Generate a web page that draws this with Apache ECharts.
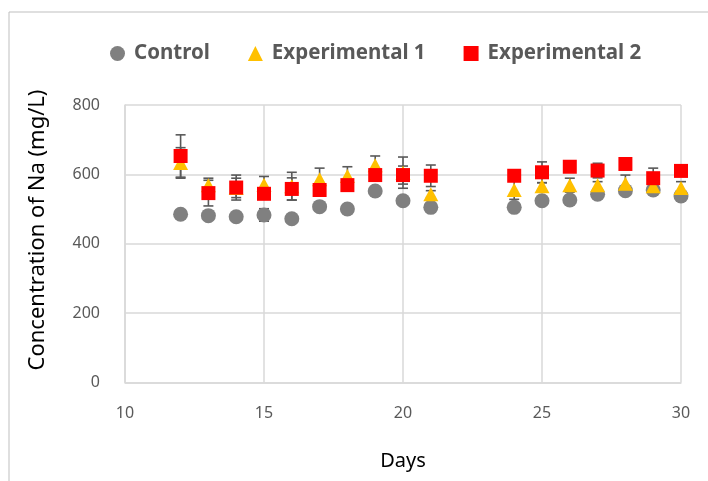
<!DOCTYPE html>
<html>
<head>
<meta charset="utf-8">
<script src="https://cdn.jsdelivr.net/npm/echarts@6/dist/echarts.min.js"></script>
<style>
  html, body { margin: 0; padding: 0; background: #fff; }
  #chart { width: 708px; height: 481px; }
</style>
</head>
<body>
<div id="chart"></div>
<script>
// Sodium concentration by day, mean values with standard deviation
const days = [12, 13, 14, 15, 16, 17, 18, 19, 20, 21, 24, 25, 26, 27, 28, 29, 30];
const control = [485, 481, 478, 483, 472, 507, 500, 552, 524, 505, 505, 524, 526, 543, 553, 555, 538];
const controlErr = [8, 8, 8, 18, 8, 8, 8, 8, 8, 8, 8, 8, 8, 8, 8, 8, 8];
const exp1 = [633, 569, 561, 570, 566, 586, 595, 626, 605, 543, 555, 566, 569, 569, 573, 566, 561];
const exp1Err = [44, 20, 28, 24, 40, 32, 27, 27, 45, 10, 27, 10, 20, 10, 25, 10, 18];
const exp2 = [653, 546, 562, 544, 558, 555, 569, 598, 598, 596, 596, 606, 622, 611, 630, 589, 610];
const exp2Err = [61, 37, 36, 15, 32, 10, 10, 10, 26, 31, 10, 30, 10, 21, 10, 29, 10];
const seriesNames = ['Control', 'Experimental 1', 'Experimental 2'];
const xTicks = [10, 15, 20, 25, 30];
const yTicks = [0, 200, 400, 600, 800];
const xTitle = 'Days';
const yTitle = 'Concentration of Na (mg/L)';

const pts = (vals) => days.map((d, i) => [d, vals[i]]);
const errs = (vals, e) => days.map((d, i) => [d, vals[i] - e[i], vals[i] + e[i]]);

// vertical whisker with short caps at both ends
function errorBar(params, api) {
  const x = api.value(0);
  const lo = api.coord([x, api.value(1)]);
  const hi = api.coord([x, api.value(2)]);
  const w = 5;
  const style = { stroke: '#595959', lineWidth: 1.6 };
  return {
    type: 'group',
    children: [
      { type: 'line', shape: { x1: lo[0], y1: lo[1], x2: hi[0], y2: hi[1] }, style },
      { type: 'line', shape: { x1: lo[0] - w, y1: lo[1], x2: lo[0] + w, y2: lo[1] }, style },
      { type: 'line', shape: { x1: hi[0] - w, y1: hi[1], x2: hi[0] + w, y2: hi[1] }, style }
    ]
  };
}

const chart = echarts.init(document.getElementById('chart'), null, { renderer: 'canvas' });
const gridColor = '#d9d9d9';
const labelColor = '#595959';
const fontFam = '"Noto Sans", "DejaVu Sans", sans-serif';

chart.setOption({
  backgroundColor: '#fff',
  animation: false,
  graphic: [
    {
      type: 'rect', z: -10,
      shape: { x: 9, y: 12, width: 760, height: 520 },
      style: { fill: 'none', stroke: '#bfbfbf', lineWidth: 1 }
    },
    {
      type: 'text', x: 37.5, y: 230, rotation: Math.PI / 2,
      style: { text: yTitle, fontSize: 22, fill: '#000', fontFamily: fontFam,
               textAlign: 'center', textVerticalAlign: 'middle' }
    },
    {
      type: 'text', x: 403, y: 461,
      style: { text: xTitle, fontSize: 20, fill: '#000', fontFamily: fontFam,
               textAlign: 'center', textVerticalAlign: 'middle' }
    }
  ],
  legend: {
    top: 38, left: 105,
    itemWidth: 15, itemHeight: 15, itemGap: 38,
    textStyle: { fontSize: 20.5, fontWeight: 'bold', color: labelColor, fontFamily: fontFam, padding: [0, 0, 0, 4] },
    data: [
      { name: seriesNames[0], icon: 'circle' },
      { name: seriesNames[1], icon: 'triangle' },
      { name: seriesNames[2], icon: 'rect' }
    ]
  },
  grid: { left: 125, right: 27, top: 105, bottom: 98.5 },
  xAxis: {
    type: 'value', min: xTicks[0], max: xTicks[xTicks.length - 1], interval: 5,
    axisLine: { show: true, lineStyle: { color: gridColor, width: 1.5 } },
    axisTick: { show: false },
    axisLabel: { fontSize: 16, color: labelColor, margin: 23, fontFamily: fontFam },
    splitLine: { show: true, lineStyle: { color: gridColor, width: 1.5 } }
  },
  yAxis: {
    type: 'value', min: yTicks[0], max: yTicks[yTicks.length - 1], interval: 200,
    axisLine: { show: true, lineStyle: { color: gridColor, width: 1.5 } },
    axisTick: { show: false },
    axisLabel: { fontSize: 16, color: labelColor, margin: 25, fontFamily: fontFam },
    splitLine: { show: true, lineStyle: { color: gridColor, width: 1.5 } }
  },
  series: [
    { type: 'custom', renderItem: errorBar, data: errs(control, controlErr), z: 1, silent: true },
    { type: 'custom', renderItem: errorBar, data: errs(exp1, exp1Err), z: 1, silent: true },
    { type: 'custom', renderItem: errorBar, data: errs(exp2, exp2Err), z: 1, silent: true },
    { name: seriesNames[0], type: 'scatter', data: pts(control), symbol: 'circle', symbolSize: 15,
      itemStyle: { color: '#808080', opacity: 1 }, z: 2 },
    { name: seriesNames[1], type: 'scatter', data: pts(exp1), symbol: 'triangle', symbolSize: [15, 14],
      itemStyle: { color: '#FFC000', opacity: 1 }, z: 3 },
    { name: seriesNames[2], type: 'scatter', data: pts(exp2), symbol: 'rect', symbolSize: 14,
      itemStyle: { color: '#FF0000', opacity: 1 }, z: 4 }
  ]
});
</script>
</body>
</html>
